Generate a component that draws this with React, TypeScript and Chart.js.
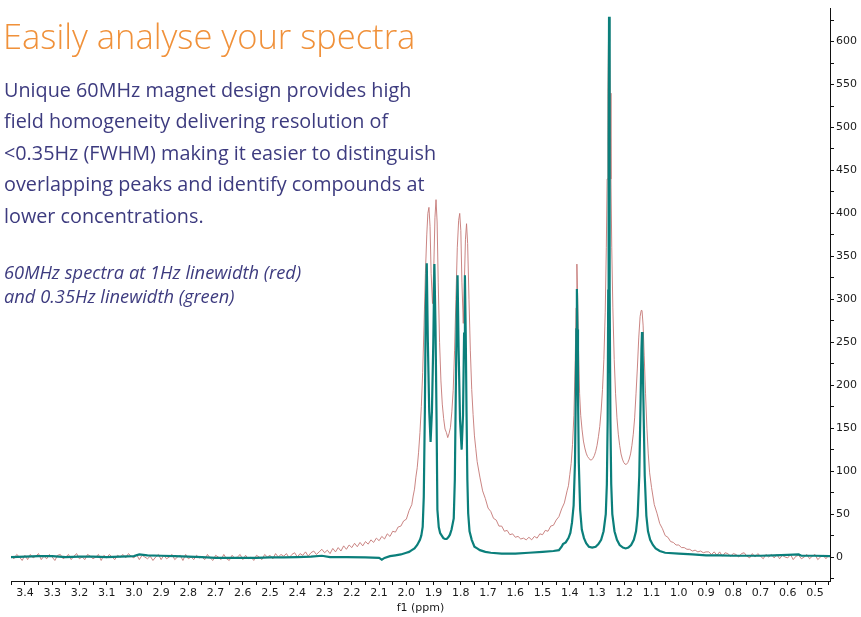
import React, { useEffect, useRef } from 'react';
import { Chart, registerables } from 'chart.js';

Chart.register(...registerables);

// ---------- data (ppm, intensity) ----------

// Green spectrum (0.35 Hz linewidth)
const greenPpm = [
  3.451, 3.40, 3.35, 3.30, 3.25, 3.20, 3.15, 3.10, 3.05, 3.00, 2.98, 2.95, 2.90, 2.85, 2.80, 2.75, 2.70, 2.65,
  2.60, 2.55, 2.50, 2.45, 2.40, 2.35, 2.31, 2.28, 2.22, 2.15, 2.10, 2.09, 2.08, 2.06, 2.04, 2.02, 2.00, 1.99,
  1.98, 1.97, 1.96, 1.95, 1.945, 1.940, 1.936, 1.932, 1.929, 1.925, 1.921, 1.916, 1.911, 1.906, 1.901, 1.897,
  1.893, 1.889, 1.886, 1.881, 1.876, 1.870, 1.864, 1.858, 1.852, 1.846, 1.840, 1.834, 1.826, 1.822, 1.818,
  1.815, 1.812, 1.808, 1.803, 1.797, 1.792, 1.788, 1.785, 1.782, 1.779, 1.776, 1.773, 1.768, 1.760, 1.750,
  1.740, 1.730, 1.710, 1.690, 1.650, 1.600, 1.550, 1.500, 1.460, 1.440, 1.430, 1.425, 1.415, 1.405, 1.398,
  1.392, 1.386, 1.381, 1.378, 1.376, 1.374, 1.372, 1.370, 1.367, 1.362, 1.356, 1.348, 1.340, 1.330, 1.318,
  1.305, 1.295, 1.285, 1.276, 1.268, 1.264, 1.261, 1.259, 1.2575, 1.256, 1.2545, 1.253, 1.251, 1.248, 1.244,
  1.236, 1.227, 1.217, 1.205, 1.195, 1.185, 1.175, 1.165, 1.157, 1.151, 1.145, 1.140, 1.137, 1.135, 1.133,
  1.130, 1.125, 1.119, 1.113, 1.105, 1.095, 1.085, 1.070, 1.050, 1.000, 0.950, 0.900, 0.850, 0.800, 0.700,
  0.650, 0.600, 0.560, 0.550, 0.500, 0.445,
];
const greenVal = [
  0, 0.5, 1, 1, 0, 0.5, 0.5, 0, 0.5, 1, 3, 2, 1.5, 1, 0.5, 0, -1, -1,
  -1, -1, -0.5, -0.5, 0, 0.5, 1.5, 0, 0, -0.5, -1, -3, -1, 1, 2, 3, 5, 6,
  8, 10, 14, 20, 25, 35, 70, 170, 280, 342, 250, 170, 134, 170, 250, 341,
  270, 160, 55, 35, 28, 25, 22, 21, 21, 23, 26, 32, 45, 90, 205,
  280, 328, 240, 160, 125, 165, 260, 328, 260, 167, 90, 51, 30, 20, 12,
  10, 8, 6, 5, 4, 4, 5, 6, 7, 8, 12, 15, 17, 22, 28,
  40, 60, 110, 190, 265, 312, 265, 190, 110, 55, 32, 22, 16, 12, 11,
  12, 15, 20, 30, 50, 85, 160, 310, 480, 629, 480, 310, 160, 85, 50,
  30, 20, 14, 11, 10, 11, 14, 20, 30, 48, 95, 185, 242, 262, 242,
  185, 95, 48, 30, 20, 14, 10, 7, 5, 4, 3, 2, 2, 1.5, 1.5,
  2, 2.5, 3, 1.5, 1.5, 1,
];

// Red spectrum (1 Hz linewidth): noisy left baseline sampled every 0.01 ppm from 3.45 to 2.30
const redLeftStart = 3.45;
const redLeftStep = 0.01;
const redLeftVal = [
  1, -2, 3, 0, -4, 2, -3, 3, -1, 1,
  4, -3, 1, -2, 3, 0, -4, 2, 3, -2,
  0, 3, -3, 1, 4, -2, 0, -3, 3, 1,
  -2, 0, 3, -4, 2, -1, 3, 0, -3, 2,
  0, 3, -1, 4, 1, -1, 3, -3, 2, 0,
  -2, 1, -4, 0, 3, -3, 2, -2, 0, 3,
  -3, 0, 2, -4, 3, -2, 0, -3, 2, -1,
  0, -3, 3, -1, -4, 2, 0, -3, 3, -2,
  -4, 2, -1, 0, 3, -3, 2, -2, 0, -4,
  2, 0, -3, 3, 0, 2, -2, 4, 0, 3,
  1, 4, -1, 3, 5, 0, 4, 2, 6, 1,
  5, 7, 3, 6, 9, 5,
];

// Red spectrum: multiplet region 2.29 to 0.90 ppm
const redPeakPpm = [
  2.29, 2.28, 2.27, 2.26, 2.25, 2.24, 2.23, 2.22, 2.21, 2.20, 2.19, 2.18, 2.17, 2.16, 2.15, 2.14, 2.13, 2.12,
  2.11, 2.10, 2.09, 2.08, 2.07, 2.06, 2.05, 2.04, 2.03, 2.02, 2.01, 2.00, 1.99, 1.98, 1.975, 1.97, 1.965,
  1.96, 1.955, 1.95, 1.945, 1.94, 1.935, 1.93, 1.925, 1.921, 1.917, 1.913, 1.909, 1.904, 1.899, 1.895,
  1.891, 1.887, 1.883, 1.878, 1.873, 1.868, 1.863, 1.858, 1.853, 1.848, 1.843, 1.838, 1.833, 1.828, 1.823,
  1.818, 1.813, 1.808, 1.804, 1.800, 1.796, 1.791, 1.787, 1.783, 1.779, 1.775, 1.770, 1.765, 1.760, 1.755,
  1.750, 1.745, 1.740, 1.730, 1.720, 1.710, 1.700, 1.690, 1.680, 1.670, 1.660, 1.650, 1.640, 1.630, 1.620,
  1.610, 1.600, 1.590, 1.580, 1.570, 1.560, 1.550, 1.540, 1.530, 1.520, 1.510, 1.500, 1.490, 1.480, 1.470,
  1.460, 1.450, 1.440, 1.430, 1.420, 1.410, 1.405, 1.400, 1.395, 1.390, 1.385, 1.380, 1.377, 1.374, 1.371,
  1.368, 1.364, 1.360, 1.355, 1.350, 1.345, 1.340, 1.335, 1.330, 1.325, 1.320, 1.315, 1.310, 1.305, 1.300,
  1.295, 1.290, 1.285, 1.280, 1.275, 1.270, 1.266, 1.263, 1.260, 1.258, 1.256, 1.254, 1.252, 1.249, 1.246,
  1.242, 1.237, 1.232, 1.227, 1.222, 1.217, 1.212, 1.207, 1.202, 1.197, 1.192, 1.187, 1.182, 1.177, 1.172,
  1.167, 1.162, 1.157, 1.152, 1.147, 1.142, 1.138, 1.135, 1.131, 1.127, 1.122, 1.117, 1.112, 1.107, 1.100,
  1.090, 1.080, 1.070, 1.060, 1.050, 1.040, 1.030, 1.020, 1.010, 1.000, 0.990, 0.980, 0.970, 0.960, 0.950,
  0.940, 0.930, 0.920, 0.910, 0.900,
];
const redPeakVal = [
  8, 4, 10, 6, 11, 7, 13, 9, 14, 11, 16, 12, 17, 13, 18, 15, 20, 17,
  22, 19, 24, 21, 27, 24, 30, 29, 35, 36, 42, 44, 54, 61, 71, 79, 93,
  104, 122, 145, 175, 215, 270, 330, 375, 400, 407, 385, 330, 295, 340, 395,
  416, 390, 320, 250, 205, 178, 161, 149, 145, 139, 144, 151, 169, 194, 240,
  300, 360, 392, 400, 380, 320, 272, 320, 370, 388, 365, 300, 240, 195, 166,
  141, 126, 111, 93, 77, 68, 57, 53, 45, 43, 36, 36, 30, 31, 26,
  27, 23, 24, 21, 22, 20, 23, 20, 24, 22, 27, 26, 31, 30, 36,
  37, 43, 47, 56, 63, 77, 83, 96, 109, 131, 165, 230, 290, 341, 300,
  240, 190, 165, 148, 135, 127, 121, 117, 115, 113, 113, 115, 118, 123, 130,
  140, 152, 170, 195, 230, 285, 360, 440, 540, 600, 627, 600, 540, 440, 360,
  290, 230, 190, 162, 143, 130, 120, 114, 110, 108, 108, 110, 114, 120, 130,
  143, 162, 190, 220, 255, 280, 287, 287, 270, 235, 190, 150, 120, 98, 81,
  61, 51, 39, 33, 25, 23, 18, 17, 14, 14, 11, 11, 9, 9, 7,
  8, 6, 7, 5, 6,
];

// Red spectrum: noisy right baseline sampled every 0.01 ppm from 0.89 to 0.45
const redRightStart = 0.89;
const redRightStep = 0.01;
const redRightVal = [
  6, 3, 6, 2, 6, 1, 5, 4, 1, 4,
  3, 0, 4, 5, 1, -1, 4, 0, 4, 1,
  -2, 3, 0, 3, -1, 3, -2, 2, 0, -1,
  3, -3, 1, 2, -2, 0, 3, -2, 1, 3,
  -3, 0, 2, -2, 2,
];

const xMin = 0.445;
const xMax = 3.451;
const yMin = -27.9;
const yMax = 638.4;

function buildGreen() {
  return greenPpm.map((p, i) => ({ x: p, y: greenVal[i] }));
}

function buildRed() {
  const pts: { x: number; y: number }[] = [];
  redLeftVal.forEach((v, i) => pts.push({ x: +(redLeftStart - i * redLeftStep).toFixed(3), y: v }));
  redPeakPpm.forEach((p, i) => pts.push({ x: p, y: redPeakVal[i] }));
  redRightVal.forEach((v, i) => pts.push({ x: +(redRightStart - i * redRightStep).toFixed(3), y: v }));
  return pts;
}

export default function App() {
  const ref = useRef<HTMLCanvasElement | null>(null);

  useEffect(() => {
    document.body.style.margin = '0';
    const canvas = ref.current;
    if (!canvas) return;
    const chart = new Chart(canvas, {
      type: 'line',
      data: {
        datasets: [
          {
            label: '0.35Hz',
            data: buildGreen(),
            borderColor: '#0b7f7b',
            borderWidth: 2.2,
            pointRadius: 0,
            tension: 0,
            order: 0,
          },
          {
            label: '1Hz',
            data: buildRed(),
            borderColor: 'rgba(196, 120, 118, 0.9)',
            borderWidth: 1,
            pointRadius: 0,
            tension: 0,
            order: 1,
          },
        ],
      },
      options: {
        animation: false,
        responsive: false,
        devicePixelRatio: 1,
        layout: { padding: { left: 11, top: 8, right: 0, bottom: 0 } },
        plugins: { legend: { display: false }, tooltip: { enabled: false }, title: { display: false } },
        scales: {
          x: {
            type: 'linear',
            reverse: true,
            min: xMin,
            max: xMax,
            afterFit: (s: any) => { s.height = 36; },
            grid: { display: true, drawOnChartArea: false, drawTicks: true, tickLength: 4, color: '#111' },
            border: { display: true, color: '#111', width: 1 },
            ticks: {
              stepSize: 0.05,
              includeBounds: false,
              autoSkip: false,
              maxRotation: 0,
              padding: 2,
              color: '#1a1a1a',
              font: { family: 'DejaVu Sans', size: 11 },
              callback: (v: any) => {
                const n = Math.round(Number(v) * 100);
                return n % 10 === 0 ? (n / 100).toFixed(1) : '';
              },
            },
            title: {
              display: true,
              text: 'f1 (ppm)',
              color: '#1a1a1a',
              font: { family: 'DejaVu Sans', size: 11 },
              padding: { top: 0, bottom: 2 },
            },
          },
          y: {
            type: 'linear',
            position: 'right',
            min: yMin,
            max: yMax,
            afterFit: (s: any) => { s.width = 31; },
            grid: { display: true, drawOnChartArea: false, drawTicks: true, tickLength: 4, color: '#111' },
            border: { display: true, color: '#111', width: 1 },
            ticks: {
              stepSize: 25,
              includeBounds: false,
              autoSkip: false,
              padding: 2,
              color: '#1a1a1a',
              font: { family: 'DejaVu Sans', size: 11 },
              callback: (v: any) => {
                const n = Math.round(Number(v));
                return n % 50 === 0 ? String(n) : '';
              },
            },
          },
        },
      },
    });
    return () => chart.destroy();
  }, []);

  const body = { fontFamily: '"Open Sans", sans-serif', color: '#3d3b7f', whiteSpace: 'nowrap' as const };

  return (
    <div style={{ position: 'absolute', left: 0, top: 0, width: 861, height: 617, background: '#fff' }}>
      <canvas ref={ref} width={861} height={617} style={{ position: 'absolute', left: 0, top: 0, width: 861, height: 617 }} />
      <div style={{ position: 'absolute', left: 3, top: 19, fontFamily: '"Open Sans", sans-serif', fontWeight: 300, fontSize: 34.5, lineHeight: '34.5px', color: '#f0913a', whiteSpace: 'nowrap' }}>
        Easily analyse your spectra
      </div>
      <div style={{ ...body, position: 'absolute', left: 4, top: 73.6, fontSize: 19.8, lineHeight: '31.5px' }}>
        <div>Unique 60MHz magnet design provides high</div>
        <div>field homogeneity delivering resolution of</div>
        <div>&lt;0.35Hz (FWHM) making it easier to distinguish</div>
        <div>overlapping peaks and identify compounds at</div>
        <div>lower concentrations.</div>
      </div>
      <div style={{ ...body, position: 'absolute', left: 4, top: 260, fontSize: 18.3, lineHeight: '24px', fontStyle: 'italic' }}>
        <div>60MHz spectra at 1Hz linewidth (red)</div>
        <div>and 0.35Hz linewidth (green)</div>
      </div>
    </div>
  );
}
